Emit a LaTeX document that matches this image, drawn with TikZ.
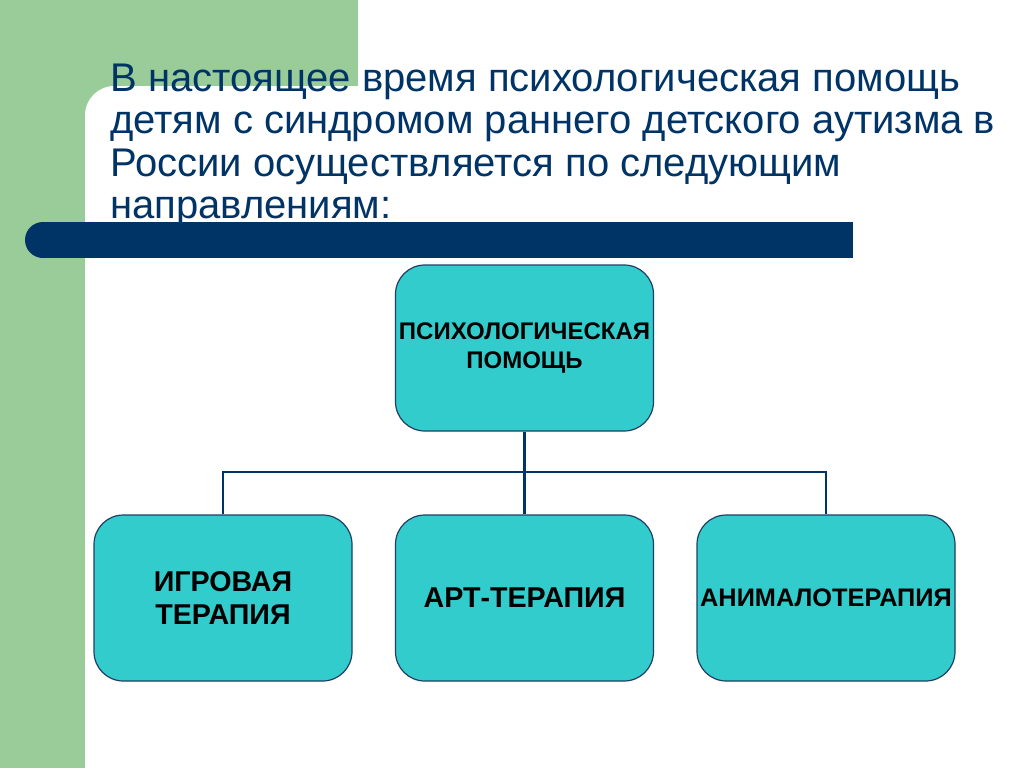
\documentclass[tikz,border=0pt]{standalone}
\usepackage{fontspec}
\setmainfont{Liberation Sans}
\definecolor{bggreen}{HTML}{99CC99}
\definecolor{navy}{HTML}{003366}
\definecolor{teal}{HTML}{33CCCC}
\definecolor{boxline}{HTML}{1F3F66}
\begin{document}
\begin{tikzpicture}[x=0.75pt,y=-0.75pt,
  titleline/.style={anchor=base west,inner sep=0pt,text=navy,font=\fontsize{30pt}{32pt}\selectfont},
  boxnode/.style={draw=boxline,line width=0.9pt,fill=teal,rounded corners=22pt,
    minimum width=193.5pt,minimum height=124.5pt,inner sep=0pt,align=center,
    font=\bfseries\fontsize{21.5pt}{24.5pt}\selectfont},
  topnode/.style={boxnode,font=\bfseries\fontsize{18pt}{22pt}\selectfont},
  smallnode/.style={boxnode,font=\bfseries\fontsize{19pt}{22pt}\selectfont},
  conn/.style={draw=navy,line width=2.2pt}]
\useasboundingbox (0,0) rectangle (1024,768);
\clip (0,0) rectangle (1024,768);
% background
\fill[bggreen] (0,0) rectangle (358,768);
\fill[white,rounded corners=22pt] (85,86) rectangle (1100,820);
% title
\node[titleline] (t1) at (110,91) {В настоящее время психологическая помощь};
\node[titleline] (t2) at (110,133.5) {детям с синдромом раннего детского аутизма в};
\node[titleline] (t3) at (110,176) {России осуществляется по следующим};
\node[titleline] (t4) at (110,218.5) {направлениям:};
% bar
\fill[navy] (43,222) rectangle (853,258);
\fill[navy] (43,240) circle[radius=13.5pt];
% boxes
\node[topnode] (top) at (524.5,348) {ПСИХОЛОГИЧЕСКАЯ\\ПОМОЩЬ};
\node[boxnode] (b1) at (223,598) {ИГРОВАЯ\\ТЕРАПИЯ};
\node[boxnode] (b2) at (524.5,598) {АРТ-ТЕРАПИЯ};
\node[smallnode] (b3) at (826,598) {АНИМАЛОТЕРАПИЯ};
\coordinate (bus) at (524.5,472);
\draw[conn] (top.south) -- (bus);
\draw[conn] (b1.north) |- (bus) -| (b3.north);
\draw[conn] (bus) -- (b2.north);
\end{tikzpicture}
\end{document}
